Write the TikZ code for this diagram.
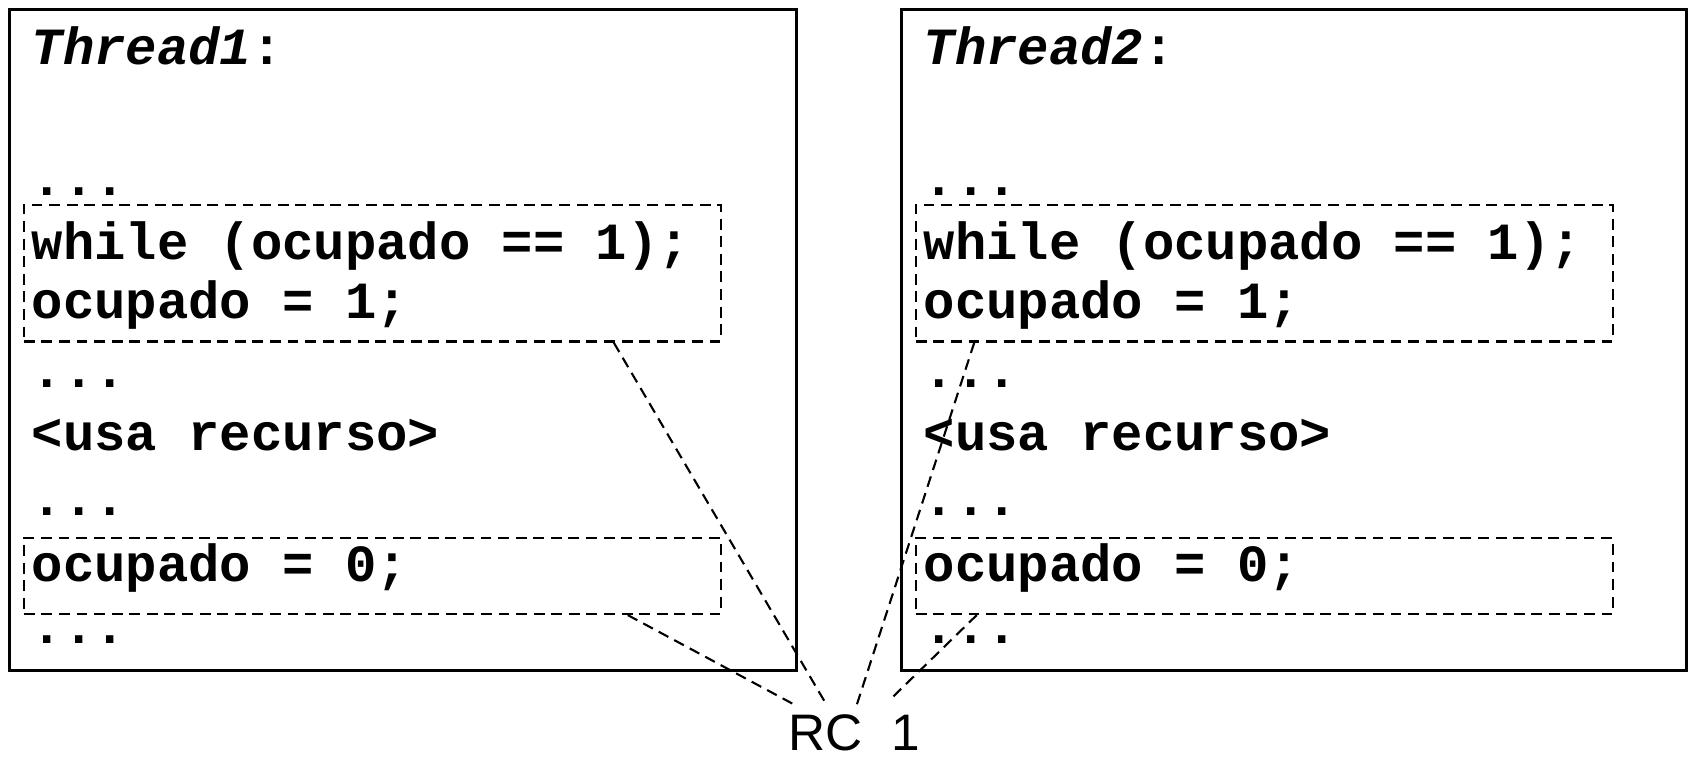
\documentclass[tikz,border=0pt]{standalone}
\usepackage{fontspec}
\setmainfont{Liberation Sans}
\newfontfamily\codefont{Liberation Mono}
\usetikzlibrary{calc}
\tikzset{
  code/.style={anchor=base west, inner sep=0pt, font=\codefont\fontsize{14.85}{17}\selectfont\bfseries},
  tbox/.style={draw, line width=0.75pt, inner sep=0pt},
  dbox/.style={draw, line width=0.6pt, dash pattern=on 3.1pt off 1.9pt, inner sep=0pt},
  conn/.style={line width=0.6pt, dash pattern=on 3.1pt off 1.9pt},
  rclabel/.style={anchor=base west, inner sep=0pt, font=\fontsize{14.6}{17}\selectfont},
}
\begin{document}
\begin{tikzpicture}[x=0.01cm, y=-0.01cm]
\useasboundingbox (0,0) rectangle (1689,758);
% thread boxes
\node[tbox, minimum width=7.865cm, minimum height=6.605cm] (box1) at (402.75,339.75) {};
\node[tbox, minimum width=7.848cm, minimum height=6.605cm] (box2) at (1294.1,339.75) {};
% left code
\node[code] (t1title) at (31,65) {\textit{Thread1}:};
\node[code] (t1a) at (31,196) {...};
\node[code] (t1b) at (31,260) {while (ocupado == 1);};
\node[code] (t1c) at (31,319) {ocupado = 1;};
\node[code] (t1d) at (31,387) {...};
\node[code] (t1e) at (31,450) {<usa recurso>};
\node[code] (t1f) at (31,515) {...};
\node[code] (t1g) at (31,581.7) {ocupado = 0;};
\node[code] (t1h) at (31,643) {...};
% right code
\node[code] (t2title) at (923,65) {\textit{Thread2}:};
\node[code] (t2a) at (923,196) {...};
\node[code] (t2b) at (923,260) {while (ocupado == 1);};
\node[code] (t2c) at (923,319) {ocupado = 1;};
\node[code] (t2d) at (923,387) {...};
\node[code] (t2e) at (923,450) {<usa recurso>};
\node[code] (t2f) at (923,515) {...};
\node[code] (t2g) at (923,581.7) {ocupado = 0;};
\node[code] (t2h) at (923,643) {...};
% dashed regions
\node[dbox, minimum width=6.965cm, minimum height=1.369cm] (d1) at (372.25,273.05) {};
\node[dbox, minimum width=6.965cm, minimum height=0.76cm] (d2) at (372.25,576) {};
\node[dbox, minimum width=6.965cm, minimum height=1.369cm] (d3) at (1264.25,273.05) {};
\node[dbox, minimum width=6.965cm, minimum height=0.76cm] (d4) at (1264.25,576) {};
% label
\node[rclabel] (rc) at (788,750) {RC~~1};
% connector ends
\coordinate (s1) at ($(d1.south west)+(591,0)$);
\coordinate (s2) at ($(d2.south west)+(605,0)$);
\coordinate (s3) at ($(d3.south west)+(59.5,0)$);
\coordinate (s4) at ($(d4.south west)+(62,0)$);
\coordinate (e1) at (826.7,705);
\coordinate (e2) at (795,705);
\coordinate (e3) at (856.7,705);
\coordinate (e4) at (891.7,698);
\draw[conn] (s1) -- (e1);
\draw[conn] (s2) -- (e2);
\draw[conn] (s3) -- (e3);
\draw[conn] (s4) -- (e4);
\end{tikzpicture}
\end{document}
